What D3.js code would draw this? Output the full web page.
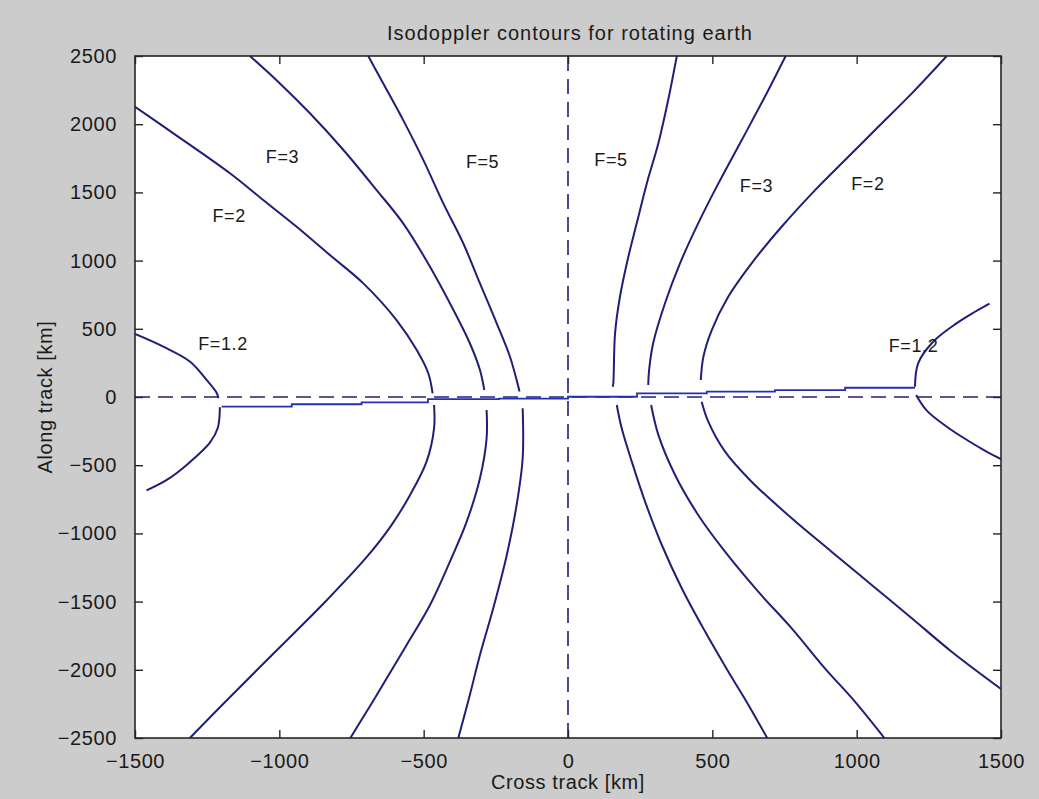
<!DOCTYPE html>
<html>
<head>
<meta charset="utf-8">
<script src="https://cdn.jsdelivr.net/npm/d3@7"></script>
<style>
  html, body { margin: 0; padding: 0; background: #cccccc; }
  svg { display: block; }
  text { font-family: "Liberation Sans", Arial, sans-serif; fill: #1a1a1a; letter-spacing: 0.6px; }
</style>
</head>
<body>
<svg id="chart" width="1039" height="799"></svg>
<script>
// Axis ticks
const xTicks = [-1500, -1000, -500, 0, 500, 1000, 1500];
const yTicks = [-2500, -2000, -1500, -1000, -500, 0, 500, 1000, 1500, 2000, 2500];

// Isodoppler contour branches, [cross track km, along track km]
const f12LeftUpper = [[-1500, 462], [-1402, 369], [-1309, 259], [-1252, 125], [-1217, 30], [-1211, -8]];
const f12LeftLower = [[-1206, -75], [-1213, -225], [-1240, -333], [-1321, -498], [-1390, -608], [-1460, -685]];
const f12RightUpper = [[1202, 75], [1213, 247], [1265, 405], [1346, 540], [1410, 625], [1460, 685]];
const f12RightLower = [[1206, 15], [1243, -100], [1312, -218], [1392, -328], [1450, -400], [1500, -455]];

const f2LeftUpper = [[-1500, 2128], [-1367, 1933], [-1171, 1640], [-1056, 1444], [-940, 1248], [-825, 1041],
  [-709, 833], [-594, 564], [-524, 344], [-484, 174], [-469, 27]];
const f2LeftLower = [[-464, -59], [-464, -230], [-490, -474], [-547, -718], [-615, -950], [-700, -1180],
  [-835, -1488], [-1008, -1855], [-1181, -2221], [-1310, -2500]];
const f2RightUpper = [[460, 125], [469, 295], [498, 491], [555, 735], [636, 980], [740, 1248],
  [856, 1517], [971, 1761], [1075, 1981], [1191, 2226], [1312, 2500]];
const f2RightLower = [[463, -34], [486, -181], [544, -401], [636, -621], [775, -889], [913, -1134],
  [1052, -1378], [1191, -1622], [1329, -1867], [1500, -2140]];

const f3LeftUpper = [[-1102, 2500], [-998, 2299], [-894, 2080], [-778, 1811], [-663, 1517], [-571, 1273],
  [-478, 955], [-397, 638], [-340, 394], [-305, 198], [-290, 51]];
const f3LeftLower = [[-282, -95], [-282, -303], [-305, -596], [-351, -914], [-409, -1207], [-478, -1525],
  [-559, -1818], [-630, -2070], [-690, -2280], [-754, -2500]];
const f3RightUpper = [[278, 88], [281, 198], [295, 394], [336, 687], [388, 980], [451, 1273],
  [521, 1566], [602, 1884], [682, 2201], [754, 2500]];
const f3RightLower = [[288, -59], [313, -278], [371, -572], [451, -865], [544, -1134], [659, -1427],
  [775, -1696], [890, -1989], [994, -2233], [1096, -2500]];

const f5LeftUpper = [[-692, 2500], [-640, 2299], [-571, 2030], [-501, 1737], [-432, 1420], [-363, 1127],
  [-305, 833], [-247, 540], [-201, 295], [-175, 100], [-168, 40]];
const f5LeftLower = [[-157, -83], [-157, -449], [-178, -792], [-212, -1158], [-259, -1549], [-305, -1891],
  [-340, -2184], [-380, -2500]];
const f5RightUpper = [[155, 75], [157, 100], [163, 467], [180, 735], [209, 1028], [238, 1273],
  [273, 1566], [313, 1860], [347, 2177], [377, 2500]];
const f5RightLower = [[169, -59], [186, -230], [221, -474], [267, -767], [325, -1085], [394, -1402],
  [475, -1720], [555, -2013], [625, -2258], [690, -2500]];

// Stepped branch-cut trace along the track axis (x break, y level)
const cutX = [-1200, -957, -715, -485, -239, 0, 239, 481, 717, 960, 1202];
const cutY = [-70, -53, -39, -16, -12, 2, 27, 39, 51, 68, 68];

// Contour labels
const labelText = ["F=1.2", "F=2", "F=3", "F=5", "F=5", "F=3", "F=2", "F=1.2"];
const labelX = [-1195, -1174, -989, -296, 149, 653, 1039, 1197];
const labelY = [385, 1330, 1756, 1726, 1741, 1550, 1558, 377];

const branches = [f12LeftUpper, f12LeftLower, f12RightUpper, f12RightLower,
  f2LeftUpper, f2LeftLower, f2RightUpper, f2RightLower,
  f3LeftUpper, f3LeftLower, f3RightUpper, f3RightLower,
  f5LeftUpper, f5LeftLower, f5RightUpper, f5RightLower];

const svg = d3.select("#chart");
const mLeft = 135, mRight = 1001, mTop = 56, mBottom = 738;

const x = d3.scaleLinear().domain([-1500, 1500]).range([mLeft, mRight]);
const y = d3.scaleLinear().domain([-2500, 2500]).range([mBottom, mTop]);

const lineColor = "#1f1f78";
const axisColor = "#262626";

// Plot area
svg.append("rect")
  .attr("x", mLeft).attr("y", mTop)
  .attr("width", mRight - mLeft).attr("height", mBottom - mTop)
  .attr("fill", "#ffffff");

const plot = svg.append("g");
plot.append("clipPath").attr("id", "clip")
  .append("rect").attr("x", mLeft).attr("y", mTop)
  .attr("width", mRight - mLeft).attr("height", mBottom - mTop);
const inner = plot.append("g").attr("clip-path", "url(#clip)");

// Dashed reference axes through the origin
inner.append("line")
  .attr("x1", x(-1500)).attr("x2", x(1500)).attr("y1", y(0)).attr("y2", y(0))
  .attr("stroke", lineColor).attr("stroke-width", 1.6).attr("stroke-dasharray", "15,8");
inner.append("line")
  .attr("x1", x(0)).attr("x2", x(0)).attr("y1", y(2500)).attr("y2", y(-2500))
  .attr("stroke", lineColor).attr("stroke-width", 1.6).attr("stroke-dasharray", "15,8");

// Branch-cut trace
const cut = cutX.map((v, i) => [v, cutY[i]]);
inner.append("path")
  .datum(cut)
  .attr("d", d3.line().x(d => x(d[0])).y(d => y(d[1])).curve(d3.curveStepAfter))
  .attr("fill", "none").attr("stroke", "#2430b4").attr("stroke-width", 1.8);

// Contour branches
const contour = d3.line()
  .x(d => x(d[0])).y(d => y(d[1]))
  .curve(d3.curveCatmullRom.alpha(0.5));
inner.selectAll("path.branch")
  .data(branches)
  .join("path")
  .attr("class", "branch")
  .attr("d", contour)
  .attr("fill", "none")
  .attr("stroke", lineColor)
  .attr("stroke-width", 2);

// Labels
svg.selectAll("text.flabel")
  .data(labelText)
  .join("text")
  .attr("class", "flabel")
  .attr("x", (d, i) => x(labelX[i]))
  .attr("y", (d, i) => y(labelY[i]))
  .attr("text-anchor", "middle")
  .attr("dominant-baseline", "central")
  .attr("font-size", 18)
  .text(d => d);

// Axes with inward ticks on all four sides
const fmt = d => d3.format("d")(d);
const axB = svg.append("g").attr("transform", `translate(0,${mBottom})`)
  .call(d3.axisBottom(x).tickValues(xTicks).tickSize(-8).tickPadding(16).tickFormat(fmt));
const axT = svg.append("g").attr("transform", `translate(0,${mTop})`)
  .call(d3.axisTop(x).tickValues(xTicks).tickSize(-8).tickFormat(""));
const axL = svg.append("g").attr("transform", `translate(${mLeft},0)`)
  .call(d3.axisLeft(y).tickValues(yTicks).tickSize(-8).tickPadding(18).tickFormat(fmt));
const axR = svg.append("g").attr("transform", `translate(${mRight},0)`)
  .call(d3.axisRight(y).tickValues(yTicks).tickSize(-8).tickFormat(""));

[axB, axT, axL, axR].forEach(g => {
  g.select(".domain").remove();
  g.selectAll(".tick line").attr("stroke", axisColor).attr("stroke-width", 1.4);
  g.selectAll(".tick text").attr("fill", "#1a1a1a").attr("font-size", 20)
    .attr("font-family", "Liberation Sans, Arial, sans-serif");
});

svg.append("rect")
  .attr("x", mLeft).attr("y", mTop)
  .attr("width", mRight - mLeft).attr("height", mBottom - mTop)
  .attr("fill", "none").attr("stroke", axisColor).attr("stroke-width", 1.6);

// Titles
svg.append("text")
  .attr("x", (mLeft + mRight) / 2 + 2).attr("y", 40)
  .attr("text-anchor", "middle").attr("font-size", 20)
  .style("letter-spacing", "1px")
  .text("Isodoppler contours for rotating earth");
svg.append("text")
  .attr("x", (mLeft + mRight) / 2).attr("y", 789)
  .attr("text-anchor", "middle").attr("font-size", 20)
  .text("Cross track [km]");
svg.append("text")
  .attr("transform", `translate(52,${(mTop + mBottom) / 2}) rotate(-90)`)
  .attr("text-anchor", "middle").attr("font-size", 20)
  .text("Along track [km]");
</script>
</body>
</html>
